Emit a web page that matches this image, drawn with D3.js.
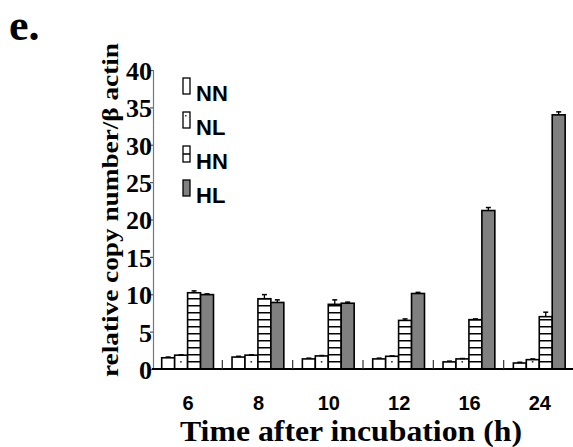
<!DOCTYPE html>
<html><head><meta charset="utf-8">
<script src="https://cdn.jsdelivr.net/npm/d3@7/dist/d3.min.js"></script>
<style>body{margin:0;background:#fff}svg{display:block}</style>
</head><body>
<script>
const categories = ["6","8","10","12","16","24"];
const seriesNames = ["NN","NL","HN","HL"];
const NN = [1.5, 1.6, 1.35, 1.35, 0.95, 0.8];
const NL = [1.85, 1.85, 1.75, 1.7, 1.35, 1.25];
const HN = [10.2, 9.4, 8.65, 6.5, 6.6, 7.0];
const HL = [9.95, 8.9, 8.8, 10.1, 21.2, 34.0];
const NNerr = [0.1, 0.1, 0.1, 0.1, 0.1, 0.1];
const NLerr = [0.05, 0.05, 0.05, 0.05, 0.05, 0.1];
const HNerr = [0.25, 0.55, 0.6, 0.2, 0.1, 0.6];
const HLerr = [0.1, 0.35, 0.15, 0.15, 0.4, 0.4];
const yTicks = [0,5,10,15,20,25,30,35,40];

const W = 573, H = 447;
const svg = d3.select("body").append("svg").attr("width", W).attr("height", H);
const defs = svg.append("defs");
const pat = defs.append("pattern").attr("id","hn").attr("patternUnits","userSpaceOnUse")
  .attr("width", 20).attr("height", 7).attr("y", 369 % 7 - 1);
pat.append("rect").attr("width",20).attr("height",7).attr("fill","#fff");
pat.append("line").attr("x1",0).attr("x2",20).attr("y1",0.75).attr("y2",0.75)
  .attr("stroke","#000").attr("stroke-width",1.5);

const fills = {NN:"#fff", NL:"#fff", HN:"url(#hn)", HL:"#808080"};
const vals = {NN, NL, HN, HL};
const errs = {NN:NNerr, NL:NLerr, HN:HNerr, HL:HLerr};

const y = d3.scaleLinear().domain([0,40]).range([369, 70]);
const x0 = d3.scaleBand().domain(categories).range([152, 574]).paddingInner(0).paddingOuter(0);
const x1 = d3.scaleBand().domain(seriesNames).range([9.7, 61.5]).padding(0);

// bars
const g = svg.append("g");
categories.forEach((c, i) => {
  seriesNames.forEach(s => {
    const v = vals[s][i], e = errs[s][i];
    const bx = x0(c) + x1(s), bw = x1.bandwidth();
    g.append("rect").attr("x", bx).attr("y", y(v)).attr("width", bw).attr("height", y(0) - y(v))
      .attr("fill", fills[s]).attr("stroke", "#000").attr("stroke-width", 1.6);
    const cx = bx + bw/2;
    g.append("line").attr("x1",cx).attr("x2",cx).attr("y1",y(v)).attr("y2",y(v+e))
      .attr("stroke","#000").attr("stroke-width",1.3);
    g.append("line").attr("x1",cx-2.5).attr("x2",cx+2.5).attr("y1",y(v+e)).attr("y2",y(v+e))
      .attr("stroke","#000").attr("stroke-width",1.5);
    if (s === "NL") {
      g.append("rect").attr("x", cx-1).attr("y", y(0)-8).attr("width",1.6).attr("height",1.6).attr("fill","#333");
    }
  });
});

// y axis
const yAxis = d3.axisLeft(y).tickValues(yTicks).tickSize(3).tickFormat(d3.format("d"));
const ya = svg.append("g").attr("transform","translate(153,0)").call(yAxis);
ya.select(".domain").attr("stroke","#777").attr("stroke-width",1.2);
ya.selectAll(".tick line").attr("stroke","#555").attr("stroke-width",1.2);
ya.selectAll(".tick text").attr("font-family","'Liberation Serif', 'Times New Roman', serif")
  .attr("font-weight","bold").attr("font-size",26).attr("fill","#000").attr("x",-1).attr("dy","0.36em");

// x axis
const xa = svg.append("g").attr("transform","translate(0,369)");
xa.append("line").attr("x1",152).attr("x2",573).attr("y1",0).attr("y2",0).attr("stroke","#000").attr("stroke-width",1.8);
categories.slice(1).forEach(c => {
  xa.append("line").attr("x1",x0(c)).attr("x2",x0(c)).attr("y1",0).attr("y2",-9).attr("stroke","#333").attr("stroke-width",1.2);
});
categories.forEach(c => {
  xa.append("text").attr("x", x0(c) + x0.bandwidth()/2 + 1).attr("y", 41).attr("text-anchor","middle")
    .attr("font-family","'Liberation Sans', Arial, sans-serif").attr("font-weight","bold").attr("font-size",20)
    .text(c);
});

// titles
svg.append("text").attr("x", 351).attr("y", 441).attr("text-anchor","middle")
  .attr("font-family","'Liberation Serif', 'Times New Roman', serif").attr("font-weight","bold").attr("font-size",30)
  .attr("textLength", 342).attr("lengthAdjust","spacingAndGlyphs")
  .text("Time after incubation (h)");
svg.append("text").attr("transform","translate(118,210) rotate(-90)").attr("text-anchor","middle")
  .attr("font-family","'Liberation Serif', 'Times New Roman', serif").attr("font-weight","bold").attr("font-size",23)
  .attr("textLength", 334).attr("lengthAdjust","spacingAndGlyphs")
  .text("relative copy number/\u03B2 actin");
svg.append("text").attr("x", 9).attr("y", 40)
  .attr("font-family","'Liberation Serif', 'Times New Roman', serif").attr("font-weight","bold").attr("font-size",44)
  .text("e.");

// legend
const legY = [78, 112, 146, 180];
seriesNames.forEach((s, i) => {
  const ly = legY[i];
  svg.append("rect").attr("x", 183).attr("y", ly).attr("width", 7).attr("height", 16)
    .attr("fill", s === "HN" ? "#fff" : fills[s]).attr("stroke","#000").attr("stroke-width",1.3);
  if (s === "HN") {
    svg.append("line").attr("x1",183).attr("x2",190).attr("y1",ly+8).attr("y2",ly+8).attr("stroke","#000").attr("stroke-width",1.5);
  }
  if (s === "NL") {
    svg.append("rect").attr("x",185).attr("y",ly+3).attr("width",1.5).attr("height",1.5).attr("fill","#333");
  }
  svg.append("text").attr("x", 196).attr("y", ly + 23)
    .attr("font-family","'Liberation Sans', Arial, sans-serif").attr("font-weight","bold").attr("font-size",22)
    .text(s);
});
</script>
</body></html>
